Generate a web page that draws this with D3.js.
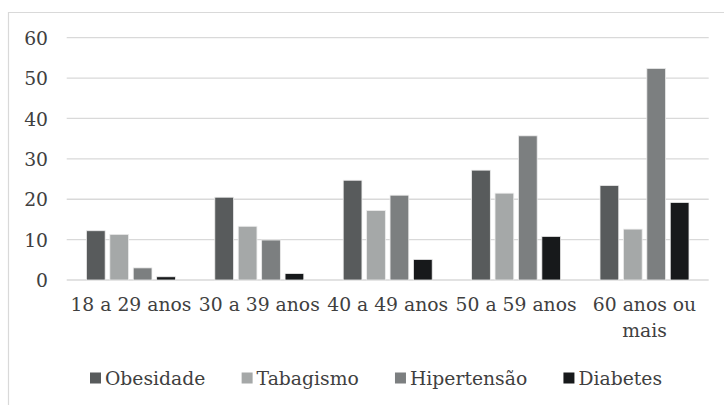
<!DOCTYPE html>
<html>
<head>
<meta charset="utf-8">
<script src="https://cdn.jsdelivr.net/npm/d3@7"></script>
<style>
  html, body { margin: 0; padding: 0; background: #ffffff; }
  svg { display: block; }
  text { font-family: "DejaVu Serif", "Liberation Serif", serif; fill: #404040; }
</style>
</head>
<body>
<svg id="chart" width="724" height="405"></svg>
<script>
// Age groups and prevalence (%) for each condition
const categories = ["18 a 29 anos", "30 a 39 anos", "40 a 49 anos", "50 a 59 anos", "60 anos ou mais"];
const seriesNames = ["Obesidade", "Tabagismo", "Hipertensão", "Diabetes"];
const obesidade   = [12.2, 20.5, 24.7, 27.2, 23.4];
const tabagismo   = [11.3, 13.3, 17.2, 21.5, 12.6];
const hipertensao = [3.0, 9.9, 21.0, 35.7, 52.4];
const diabetes    = [0.8, 1.6, 5.1, 10.8, 19.2];
const yTicks = [0, 10, 20, 30, 40, 50, 60];

const seriesValues = [obesidade, tabagismo, hipertensao, diabetes];
const colors = ["#585b5c", "#a5a8a8", "#7c7f80", "#17191b"];

const svg = d3.select("#chart");
const W = 724, H = 405;
const plot = { left: 66.7, right: 708.7, top: 37.7, bottom: 280 };

// pick a font size so that a category label spans about 121px
const probe = svg.append("text").attr("font-size", 20).text(categories[0]);
const fontSize = Math.min(19, 20 * 121 / probe.node().getComputedTextLength());
probe.remove();

// outer chart frame (clipped at right and bottom)
svg.append("path")
  .attr("d", `M8.5,${H} L8.5,12.5 L${W},12.5`)
  .attr("fill", "none")
  .attr("stroke", "#d9d9d9")
  .attr("stroke-width", 1.2);

const y = d3.scaleLinear().domain([0, 60]).range([plot.bottom, plot.top]);
const x0 = d3.scaleBand().domain(categories)
  .range([plot.left, plot.right])
  .paddingInner(0.307).paddingOuter(0.1535);
const x1 = d3.scaleBand().domain(seriesNames)
  .range([0, x0.bandwidth()])
  .paddingInner(0.2).paddingOuter(0);

// gridlines
svg.append("g").selectAll("line").data(yTicks).join("line")
  .attr("x1", plot.left).attr("x2", plot.right)
  .attr("y1", d => y(d)).attr("y2", d => y(d))
  .attr("stroke", "#d9d9d9")
  .attr("stroke-width", 1.3);

// y tick labels
const yAxis = d3.axisLeft(y).tickValues(yTicks).tickSize(0).tickPadding(0);
const gy = svg.append("g").attr("transform", "translate(48,0)").call(yAxis);
gy.select(".domain").remove();
gy.attr("font-family", null).attr("font-size", null);
gy.selectAll("text")
  .attr("font-size", fontSize)
  .attr("fill", "#404040")
  .attr("dy", "0.36em");

// bars
const rows = categories.map((c, i) => ({
  cat: c,
  vals: seriesNames.map((s, j) => ({ s, v: seriesValues[j][i], c: colors[j] }))
}));
const groups = svg.append("g").selectAll("g").data(rows).join("g")
  .attr("transform", d => `translate(${x0(d.cat)},0)`);
groups.selectAll("rect").data(d => d.vals).join("rect")
  .attr("x", d => x1(d.s))
  .attr("width", x1.bandwidth())
  .attr("y", d => y(d.v))
  .attr("height", d => y(0) - y(d.v))
  .attr("fill", d => d.c)
  .attr("stroke", "#ececec")
  .attr("stroke-width", 0.8);

// x category labels, wrapped when wider than the band
const xg = svg.append("g");
categories.forEach(cat => {
  const cx = x0(cat) + x0.bandwidth() / 2;
  const t = xg.append("text")
    .attr("x", cx).attr("y", 311)
    .attr("text-anchor", "middle")
    .attr("font-size", fontSize);
  const words = cat.split(" ");
  let line = [];
  let tspan = t.append("tspan").attr("x", cx).attr("y", 311);
  let lineNo = 0;
  words.forEach(w => {
    line.push(w);
    tspan.text(line.join(" "));
    if (tspan.node().getComputedTextLength() > x0.step() - 2 && line.length > 1) {
      line.pop();
      tspan.text(line.join(" "));
      line = [w];
      lineNo++;
      tspan = t.append("tspan").attr("x", cx).attr("y", 311 + lineNo * 26.3).text(w);
    }
  });
});

// legend, spread between x=90 and x=662
const lg = svg.append("g");
const items = seriesNames.map((s, i) => {
  const g = lg.append("g");
  g.append("rect").attr("width", 11).attr("height", 11).attr("y", 372.5).attr("fill", colors[i]);
  const t = g.append("text").attr("x", 15).attr("y", 385).attr("font-size", fontSize).text(s);
  return { g, w: 15 + t.node().getComputedTextLength() };
});
const legendLeft = 90, legendRight = 662;
const gap = (legendRight - legendLeft - d3.sum(items, d => d.w)) / (items.length - 1);
let lx = legendLeft;
items.forEach(it => {
  it.g.attr("transform", `translate(${lx},0)`);
  lx += it.w + gap;
});
</script>
</body>
</html>
